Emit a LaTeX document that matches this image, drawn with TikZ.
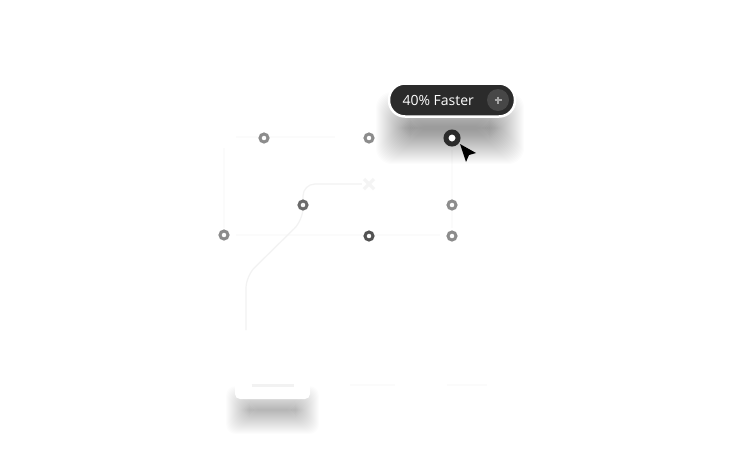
\documentclass[tikz,border=0pt]{standalone}
\usepackage{fontspec}
\setmainfont{Open Sans}
\usepackage{xcolor}
\usetikzlibrary{calc}
\definecolor{pillink}{HTML}{2B2B2B}
\definecolor{plusbg}{HTML}{474747}
\definecolor{ringgray}{HTML}{8C8C8C}
\definecolor{ringdark}{HTML}{6A6A6A}
\definecolor{ringdeep}{HTML}{525252}
\definecolor{faintline}{HTML}{FBFBFB}
\definecolor{routeline}{HTML}{F2F2F2}
\tikzset{
  ring/.style={circle,draw=ringgray,line width=3pt,minimum size=8pt,inner sep=0pt},
  pill/.style={rounded corners=16pt,fill=pillink,draw=white,line width=2.5pt,
    minimum width=126pt,minimum height=33pt,inner sep=0pt},
  ghost/.style={draw=faintline,line width=1.2pt}
}

\begin{document}
\begin{tikzpicture}[x=1pt,y=-1pt]
    \useasboundingbox[fill=white] (0,0) rectangle (736,448);
    % faint guide lines
    \draw[ghost] (236,137) -- (335,137);
    \draw[ghost] (224,148) -- (224,228);
    \draw[ghost] (236,235) -- (440,235);
    \draw[ghost] (452,150) -- (452,228);
    \draw[faintline,line width=2pt] (350,385) -- (395,385);
    \draw[faintline,line width=2pt] (447,385) -- (487,385);
    % shadows (stacked layers)
    \foreach \i in {-12,...,22}
      \fill[black,opacity=0.012,rounded corners=16pt]
        ($(398,114)-(\i,\i)$) rectangle ($(502,142)+(\i,\i)$);
    \foreach \i in {-8,...,16}
      \fill[black,opacity=0.012,rounded corners=10pt]
        ($(242,402)-(\i,\i)$) rectangle ($(303,418)+(\i,\i)$);
    % route
    \coordinate (start) at (246,330);
    \node[inner sep=0pt,minimum size=14pt] (plane) at (369,184) {};
    \draw[draw=routeline,line width=1.2pt,rounded corners=12pt] (start) -- (246,276) -- (303,220) -- (303,184) -- (plane.west);
    \draw[gray!9,line width=3pt] ($(plane)+(-5,-5)$) -- ($(plane)+(5,5)$);
    \draw[gray!9,line width=3pt] ($(plane)+(-5,5)$) -- ($(plane)+(5,-5)$);
    % stops
    \node[ring] (a1) at (264,138) {};
    \node[ring] (a2) at (369,138) {};
    \node[ring,draw=ringdark] (b1) at (303,205) {};
    \node[ring] (b2) at (452,205) {};
    \node[ring] (c1) at (224,235) {};
    \node[ring,draw=ringdeep] (c2) at (369,236) {};
    \node[ring] (c3) at (452,236) {};
    \node[circle,fill=white,draw=pillink,line width=5pt,minimum size=12pt,inner sep=0pt] (hot) at (452,138) {};
    % cursor
    \fill[black] (460,144) -- (476,153) -- (469,155) -- (466,162) -- cycle;
    % badge
    \node[pill] (badge) at (452,100) {};
    \node[text=white,font=\fontsize{14}{16}\selectfont,anchor=west] (label) at (399,100) {40\% Faster};
    \node[circle,fill=plusbg,minimum size=22pt,inner sep=0pt] (plus) at (498,100) {};
    \draw[gray!70,line width=1.3pt] ($(plus)+(-3.5,0)$) -- ($(plus)+(3.5,0)$);
    \draw[gray!70,line width=1.3pt] ($(plus)+(0,-3.5)$) -- ($(plus)+(0,3.5)$);
    % card
    \node[fill=white,rounded corners=5pt,minimum width=75pt,minimum height=21pt,inner sep=0pt] (card) at (272.5,388.5) {};
    \draw[gray!10,line width=3pt] ($(card)+(-21,-3)$) -- ($(card)+(21,-3)$);
  \end{tikzpicture}
\end{document}
